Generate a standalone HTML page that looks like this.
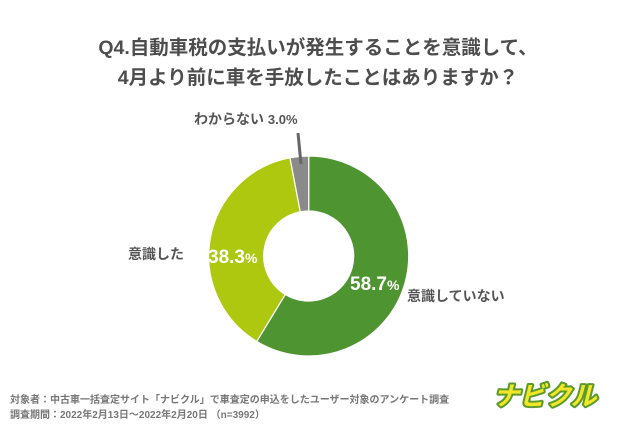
<!DOCTYPE html>
<html><head><meta charset="utf-8"><style>
body{margin:0;width:620px;height:433px;background:#fff;overflow:hidden;font-family:"Liberation Sans","Noto Sans CJK JP",sans-serif;}
</style></head><body>
<svg width="620" height="433" xmlns="http://www.w3.org/2000/svg" style="font-family:'Liberation Sans','Noto Sans CJK JP',sans-serif">
<text x="318" y="54" text-anchor="middle" font-size="19.5" font-weight="bold" fill="#4d4d4d">Q4.自動車税の支払いが発生することを意識して、</text>
<text x="318" y="84" text-anchor="middle" font-size="19.5" font-weight="bold" fill="#4d4d4d">4月より前に車を手放したことはありますか？</text>
<g id="slices"></g>
<line x1="298" y1="133" x2="301" y2="164" stroke="#666" stroke-width="3"/>
<text x="194" y="124" font-size="14" font-weight="bold" fill="#555">わからない <tspan font-size="13">3.0%</tspan></text>
<text x="128" y="259" font-size="14" font-weight="bold" fill="#555">意識した</text>
<text x="208" y="263" font-size="19" font-weight="bold" fill="#fff">38.3<tspan font-size="14">%</tspan></text>
<text x="350" y="290" font-size="19" font-weight="bold" fill="#fff">58.7<tspan font-size="14">%</tspan></text>
<text x="407" y="301" font-size="14" font-weight="bold" fill="#555">意識していない</text>
<text x="10" y="403" font-size="10" font-weight="bold" fill="#777">対象者：中古車一括査定サイト「ナビクル」で車査定の申込をしたユーザー対象のアンケート調査</text>
<text x="10" y="418" font-size="10" font-weight="bold" fill="#777">調査期間：2022年2月13日〜2022年2月20日 （n=3992）</text>
<text x="545" y="405" text-anchor="middle" font-size="26" font-weight="bold" font-style="italic" fill="#f2e52a" stroke="#5a9a2a" stroke-width="4" stroke-linejoin="round" paint-order="stroke">ナビクル</text>
</svg>
<script>
const categories=["意識していない","意識した","わからない"];
const values=[58.7,38.3,3.0];
const colors=["#4e9431","#adc80f","#8a8a8a"];
const cx=308.7,cy=256,R=100,r=45;
const g=document.getElementById('slices');
const total=values.reduce((a,b)=>a+b,0);
let a0=0;
function pt(rad,a){return [cx+rad*Math.sin(a),cy-rad*Math.cos(a)];}
values.forEach((v,i)=>{
 const a1=a0+v/total*2*Math.PI;
 const large=(a1-a0)>Math.PI?1:0;
 const [x0,y0]=pt(R,a0),[x1,y1]=pt(R,a1),[x2,y2]=pt(r,a1),[x3,y3]=pt(r,a0);
 const p=document.createElementNS('http://www.w3.org/2000/svg','path');
 p.setAttribute('d',`M${x0},${y0}A${R},${R} 0 ${large} 1 ${x1},${y1}L${x2},${y2}A${r},${r} 0 ${large} 0 ${x3},${y3}Z`);
 p.setAttribute('fill',colors[i]);
 p.setAttribute('stroke','#fff');
 p.setAttribute('stroke-width','1.2');
 
 
 g.appendChild(p);
 a0=a1;
});
</script>
</body></html>
